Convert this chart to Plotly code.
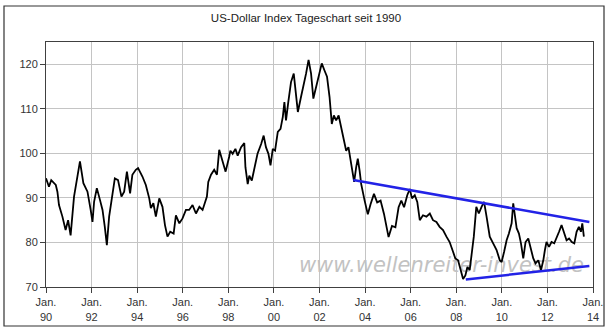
import plotly.graph_objects as go

# ---- data (decimal year, index value) ----
years = [
    1990.00, 1990.13, 1990.23, 1990.43, 1990.50, 1990.57, 1990.72, 1990.86, 1990.97,
    1991.08, 1991.23, 1991.38, 1991.49, 1991.64, 1991.82, 1991.96,
    1992.04, 1992.11, 1992.23, 1992.37, 1992.48, 1992.58, 1992.67, 1992.77, 1992.92,
    1993.02, 1993.16, 1993.31, 1993.43, 1993.55, 1993.69, 1993.79, 1993.94,
    1994.04, 1994.23, 1994.38, 1994.53, 1994.60, 1994.71, 1994.82, 1994.97,
    1995.11, 1995.22, 1995.33, 1995.45, 1995.60, 1995.70, 1995.85, 1995.99,
    1996.14, 1996.28, 1996.43, 1996.58, 1996.73, 1996.87, 1996.97,
    1997.06, 1997.12, 1997.24, 1997.38, 1997.50, 1997.60, 1997.75, 1997.88,
    1998.04, 1998.09, 1998.19, 1998.31, 1998.41, 1998.56, 1998.70, 1998.75, 1998.85, 1998.92,
    1999.03, 1999.17, 1999.28, 1999.44, 1999.55, 1999.65, 1999.76, 1999.85, 1999.95,
    2000.05, 2000.17, 2000.29, 2000.39, 2000.46, 2000.53, 2000.63, 2000.75, 2000.87, 2000.93,
    2001.05, 2001.19, 2001.31, 2001.41, 2001.52, 2001.63, 2001.73, 2001.90, 2001.98,
    2002.10, 2002.22, 2002.33, 2002.44, 2002.54, 2002.63, 2002.73, 2002.84, 2002.95,
    2003.07, 2003.17, 2003.27, 2003.36, 2003.46, 2003.52, 2003.61, 2003.68, 2003.76, 2003.83, 2003.98,
    2004.12, 2004.24, 2004.39, 2004.53, 2004.68, 2004.83, 2004.93,
    2005.03, 2005.18, 2005.33, 2005.47, 2005.59, 2005.71, 2005.85, 2005.96,
    2006.06, 2006.18, 2006.29, 2006.40, 2006.54, 2006.69, 2006.84, 2006.98,
    2007.13, 2007.27, 2007.42, 2007.57, 2007.71, 2007.86, 2007.96,
    2008.08, 2008.15, 2008.30, 2008.40, 2008.49, 2008.59, 2008.66, 2008.77, 2008.88, 2008.99,
    2009.11, 2009.22, 2009.33, 2009.47, 2009.62, 2009.77, 2009.91, 2009.99,
    2010.10, 2010.21, 2010.31, 2010.43, 2010.50, 2010.57, 2010.65, 2010.75, 2010.84, 2010.94,
    2011.04, 2011.16, 2011.28, 2011.38, 2011.48, 2011.60, 2011.72, 2011.82, 2011.89, 2011.96,
    2012.07, 2012.18, 2012.30, 2012.40, 2012.51, 2012.62, 2012.73, 2012.84, 2012.95,
    2013.07, 2013.18, 2013.28, 2013.38, 2013.47, 2013.53, 2013.60,
]
usd_index = [
    94.4, 92.5, 94.0, 92.9, 91.4, 88.4, 85.8, 82.8, 85.0,
    81.6, 90.3, 94.4, 98.2, 93.3, 91.4, 87.3,
    84.6, 89.1, 92.2, 89.5, 87.3, 83.5, 79.4, 85.8, 90.6,
    94.4, 94.0, 90.3, 91.4, 95.9, 91.0, 95.2, 96.3,
    96.7, 94.8, 92.9, 89.9, 87.7, 88.8, 85.8, 89.9,
    88.0, 83.9, 81.3, 82.4, 82.0, 86.1, 84.3, 85.4,
    87.3, 87.3, 88.4, 86.5, 88.0, 87.3, 88.8,
    90.3, 93.6, 95.2, 96.3, 95.2, 100.8, 98.2, 95.9,
    99.3, 100.6, 99.9, 101.0, 99.5, 101.4, 102.3, 96.9, 93.1, 95.0,
    93.9, 97.6, 99.9, 102.1, 104.0, 101.4, 99.9, 97.3, 101.0,
    100.6, 104.8, 105.5, 108.2, 111.5, 107.4, 111.5, 116.0, 117.9, 114.9,
    109.3, 112.7, 115.3, 117.9, 121.0, 117.9, 112.3, 115.8, 117.9,
    120.2, 118.6, 117.2, 112.7, 106.6, 108.5, 107.4, 108.5, 105.9,
    102.9, 100.6, 101.4, 98.8, 95.4, 93.6, 96.9, 98.8, 96.1, 93.1, 89.4,
    86.3, 88.6, 90.9, 89.0, 89.4, 86.4, 83.4,
    81.2, 83.7, 83.4, 87.9, 89.4, 87.9, 90.6, 92.0,
    89.9, 90.6, 89.1, 85.0, 86.1, 85.8, 86.5, 85.0,
    84.6, 83.5, 82.8, 81.3, 80.1, 77.9, 76.4,
    76.0, 74.5, 71.8, 72.6, 74.5, 73.8, 76.8, 81.3, 88.0, 86.5,
    88.0, 89.1, 85.8, 81.3, 79.8, 78.3, 76.0, 75.6,
    77.9, 80.5, 82.0, 84.3, 88.8, 85.8, 83.2, 82.0, 79.8, 76.4,
    80.1, 80.9, 78.3, 76.4, 75.3, 76.0, 73.8, 76.0, 78.3, 80.1,
    79.0, 80.1, 79.8, 80.9, 82.4, 83.9, 82.4, 80.5, 80.9,
    80.1, 79.8, 82.4, 83.5, 82.4, 84.3, 81.3,
]

# trend channel lines
upper_trend_x = [2003.48, 2013.84]
upper_trend_y = [94.0, 84.6]
lower_trend_x = [2008.42, 2013.84]
lower_trend_y = [71.7, 74.7]

tick_years = list(range(1990, 2015, 2))
tick_labels = ["Jan.<br>%02d" % (y % 100) for y in tick_years]
y_ticks = [70, 80, 90, 100, 110, 120]

title_text = "US-Dollar Index Tageschart seit 1990"
watermark = "www.wellenreiter-invest.de"

FONT = "Liberation Sans, Arial, sans-serif"

fig = go.Figure()

# watermark (behind the data line)
fig.add_trace(go.Scatter(
    x=[2007.35], y=[74.6], mode="text", text=[watermark],
    textposition="middle center",
    textfont=dict(family="DejaVu Sans", size=21, color="#c2c2c2", style="italic"),
    hoverinfo="skip", showlegend=False,
))

fig.add_trace(go.Scatter(
    x=years, y=usd_index, mode="lines",
    line=dict(color="#000000", width=1.8),
    showlegend=False,
))

fig.add_trace(go.Scatter(
    x=upper_trend_x, y=upper_trend_y, mode="lines",
    line=dict(color="#2222e6", width=2.5), showlegend=False,
))
fig.add_trace(go.Scatter(
    x=lower_trend_x, y=lower_trend_y, mode="lines",
    line=dict(color="#2222e6", width=2.5), showlegend=False,
))

L, R, T, B = 46, 22, 42, 49
W, H = 615, 336
pw, ph = W - L - R, H - T - B

def px_to_paper_x(px):
    return (px - L) / pw

def px_to_paper_y(py):
    return (H - B - py) / ph

# outer chart frame
fig.add_shape(
    type="rect", xref="paper", yref="paper",
    x0=px_to_paper_x(4), x1=px_to_paper_x(604),
    y0=px_to_paper_y(326), y1=px_to_paper_y(6),
    line=dict(color="#333333", width=1.2), fillcolor="rgba(0,0,0,0)",
    layer="below",
)

fig.update_layout(
    width=W, height=H,
    margin=dict(l=L, r=R, t=T, b=B, pad=0),
    paper_bgcolor="white", plot_bgcolor="white",
    title=dict(
        text=title_text, x=306 / W, xref="container", xanchor="center",
        y=1 - 18 / H, yref="container", yanchor="middle",
        font=dict(family=FONT, size=11.5, color="#222222"),
    ),
    xaxis=dict(
        range=[1990, 2014], tickmode="array", tickvals=tick_years, ticktext=tick_labels,
        showgrid=True, gridcolor="#c4c4c4", gridwidth=1,
        showline=True, linecolor="#404040", linewidth=1, mirror=True,
        ticks="outside", ticklen=5, tickcolor="#404040",
        tickfont=dict(family=FONT, size=11, color="#333333"),
        zeroline=False, fixedrange=True,
    ),
    yaxis=dict(
        range=[70, 125], tickmode="array", tickvals=y_ticks,
        showgrid=True, gridcolor="#c4c4c4", gridwidth=1,
        showline=True, linecolor="#404040", linewidth=1, mirror=True,
        ticks="outside", ticklen=5, tickcolor="#404040",
        tickfont=dict(family=FONT, size=11, color="#333333"),
        zeroline=False, fixedrange=True,
    ),
    showlegend=False,
)

fig.write_html("out.html", config={"displayModeBar": False})
